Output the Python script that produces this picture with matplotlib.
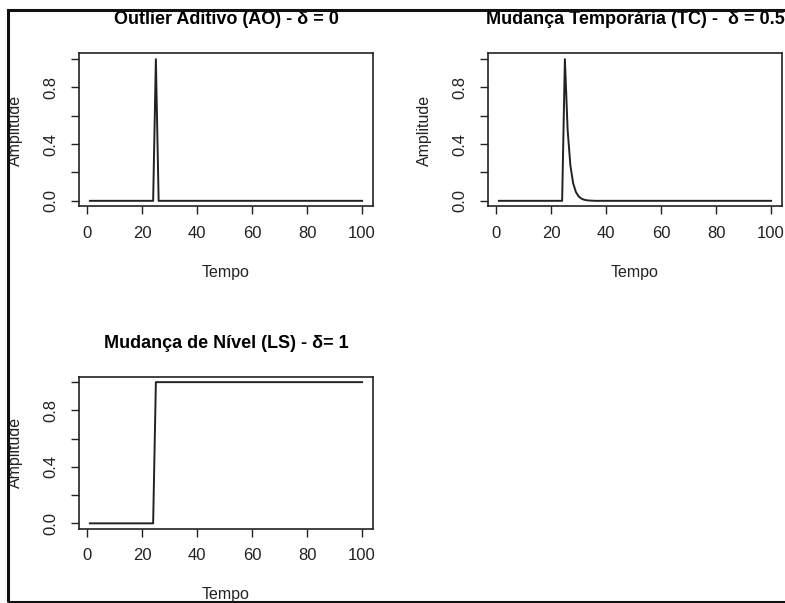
"""
Intervention types for time-series outliers: AO, TC and LS, drawn as
three small panels in a 2x2 grid (bottom-right left empty).
"""
import matplotlib
matplotlib.use("Agg")
import matplotlib.pyplot as plt
from matplotlib.patches import Rectangle

# time index 1..100, the event happens at t = 25
tempo = list(range(1, 101))

# additive outlier: a single pulse at t = 25
ao_values = [0.0] * 24 + [1.0] + [0.0] * 75

# temporary change, delta = 0.5: pulse that halves each step
tc_decay = [1.0, 0.5, 0.25, 0.125, 0.0625, 0.03125, 0.015625,
            0.0078125, 0.00390625, 0.001953125, 0.0009765625]
tc_values = [0.0] * 24 + tc_decay + [0.0] * (76 - len(tc_decay))

# level shift: step from 0 to 1 at t = 25
ls_values = [0.0] * 24 + [1.0] * 76

x_ticks = [0, 20, 40, 60, 80, 100]
y_ticks = [0.0, 0.2, 0.4, 0.6, 0.8, 1.0]
y_tick_labels = ["0.0", "", "0.4", "", "0.8", ""]

titles = ["Outlier Aditivo (AO) - δ = 0",
          "Mudança Temporária (TC) -  δ = 0.5",
          "Mudança de Nível (LS) - δ= 1"]

INK = "#222222"
W, H = 785, 603

plt.rcParams["font.family"] = ["Liberation Sans", "DejaVu Sans"]

fig = plt.figure(figsize=(W / 100, H / 100), dpi=100)


def px_axes(left, top, right, bottom):
    return fig.add_axes([left / W, 1 - bottom / H, (right - left) / W, (bottom - top) / H])


panels = [
    (px_axes(79, 53.5, 373, 206.5), ao_values, 21.5),
    (px_axes(488, 53.5, 782, 206.5), tc_values, 21.5),
    (px_axes(79, 376.5, 373, 529), ls_values, 20.5),
]

for (ax, values, title_pad), title in zip(panels, titles):
    ax.plot(tempo, values, color=INK, lw=1.4)
    ax.set_xlim(1 - 0.04 * 99, 100 + 0.04 * 99)
    ax.set_ylim(-0.04, 1.04)
    ax.set_xticks(x_ticks)
    ax.set_yticks(y_ticks)
    ax.set_yticklabels(y_tick_labels, rotation=90, va="center")
    ax.tick_params(axis="both", direction="out", length=5.8, width=1.0,
                   color=INK, labelsize=12, labelcolor=INK)
    ax.tick_params(axis="x", pad=8)
    ax.tick_params(axis="y", pad=9)
    for sp in ax.spines.values():
        sp.set_color(INK)
        sp.set_linewidth(1.2)
    ax.set_title(title, fontsize=13, fontweight="bold", color="black",
                 pad=title_pad)
    ax.set_xlabel("Tempo", fontsize=11.5, color=INK, va="center")
    ax.xaxis.set_label_coords(0.5, -66 / 153)
    ax.set_ylabel("Amplitude", fontsize=11.5, color=INK, va="center")
    ax.yaxis.set_label_coords(-64 / 294, 0.5)

# the screenshot frame on the left, top and bottom
fig.add_artist(Rectangle((8 / W, 1 - 601.5 / H), 1.0, (601.5 - 9.5) / H,
                         transform=fig.transFigure, fill=False,
                         edgecolor="#111111", lw=2.2, clip_on=False))

fig.savefig("out.png", dpi=100)
